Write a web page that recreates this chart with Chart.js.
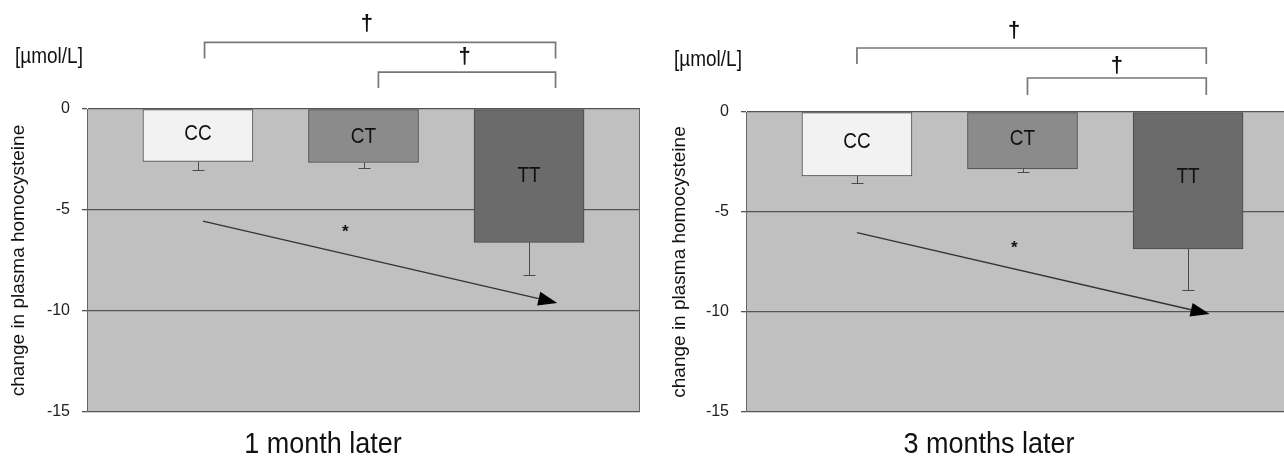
<!DOCTYPE html>
<html>
<head>
<meta charset="utf-8">
<script src="https://cdn.jsdelivr.net/npm/chart.js@4.4.1/dist/chart.umd.min.js"></script>
<style>
    html, body { margin: 0; padding: 0; background: #fff; width: 1284px; height: 457px; overflow: hidden; }
    .panel { position: absolute; top: 0; height: 460px; }
    #month1Wrap { left: 0; width: 652px; }
    #month3Wrap { left: 659px; width: 660px; }
</style>
</head>
<body>
<div class="panel" id="month1Wrap"><canvas id="month1Chart"></canvas></div>
<div class="panel" id="month3Wrap"><canvas id="month3Chart"></canvas></div>

<script>
// values (umol/L change)
const genotypes = ['CC', 'CT', 'TT'];
const month1Change = [-2.6, -2.65, -6.6];
const month1Error = [0.4, 0.25, 1.6];
const month3Change = [-3.2, -2.85, -6.85];
const month3Error = [0.35, 0.15, 2.05];
const yTicks = [0, -5, -10, -15];

Chart.defaults.font.family = "'Liberation Sans', Arial, sans-serif";
Chart.defaults.color = '#222';

const barFill = ['#f2f2f2', '#8b8b8b', '#6b6b6b'];

// the source figure's lettering is a bit taller than wide
function tallText(ctx, text, x, y, size, stretch) {
    ctx.save();
    ctx.translate(x, y);
    ctx.scale(1, stretch);
    ctx.font = size + "px 'Liberation Sans', Arial";
    ctx.fillText(text, 0, 0);
    ctx.restore();
}

function notesPlugin(cfg) {
    return {
        id: 'panelNotes',
        beforeDraw(chart) {
            const { ctx, chartArea: a } = chart;
            ctx.save();
            ctx.fillStyle = '#c0c0c0';
            ctx.fillRect(a.left, a.top, a.right - a.left, a.bottom - a.top);
            ctx.restore();
        },
        beforeDatasetsDraw(chart) {
            const { ctx, chartArea: a } = chart;
            ctx.save();
            ctx.strokeStyle = '#666';
            ctx.lineWidth = 1;
            ctx.beginPath();
            ctx.moveTo(a.right - 0.5, a.top);
            ctx.lineTo(a.right - 0.5, a.bottom);
            ctx.stroke();
            ctx.restore();
        },
        afterDatasetsDraw(chart) {
            const { ctx, chartArea: a } = chart;
            const xs = chart.scales.x, ys = chart.scales.y;
            const px = v => xs.getPixelForValue(v);
            const py = v => ys.getPixelForValue(v);
            const meta = chart.getDatasetMeta(0);

            ctx.save();

            // one-sided error bars
            ctx.strokeStyle = '#4a4a4a';
            ctx.lineWidth = 1;
            meta.data.forEach((bar, i) => {
                const yEnd = Math.round(py(cfg.values[i] - cfg.errors[i])) + 0.5;
                const x = Math.round(bar.x) + 0.5;
                ctx.beginPath();
                ctx.moveTo(x, bar.y);
                ctx.lineTo(x, yEnd);
                ctx.moveTo(x - 6, yEnd);
                ctx.lineTo(x + 6, yEnd);
                ctx.stroke();
            });

            // genotype labels inside the bars
            ctx.fillStyle = '#111';
            ctx.textAlign = 'center';
            ctx.textBaseline = 'middle';
            meta.data.forEach((bar, i) => {
                tallText(ctx, genotypes[i], bar.x, py(cfg.labelY[i]), 19, 1.2);
            });

            // trend arrow
            const ar = cfg.arrow;
            const x0 = px(ar[0]), y0 = py(ar[1]), x1 = px(ar[2]), y1 = py(ar[3]);
            const ang = Math.atan2(y1 - y0, x1 - x0);
            const headLen = 19, headHalf = 7;
            const bx = x1 - headLen * Math.cos(ang), by = y1 - headLen * Math.sin(ang);
            ctx.strokeStyle = '#333';
            ctx.lineWidth = 1.4;
            ctx.beginPath();
            ctx.moveTo(x0, y0);
            ctx.lineTo(bx, by);
            ctx.stroke();
            ctx.fillStyle = '#000';
            ctx.beginPath();
            ctx.moveTo(x1, y1);
            ctx.lineTo(bx + headHalf * Math.sin(ang), by - headHalf * Math.cos(ang));
            ctx.lineTo(bx - headHalf * Math.sin(ang), by + headHalf * Math.cos(ang));
            ctx.closePath();
            ctx.fill();

            // significance star
            ctx.fillStyle = '#111';
            ctx.font = "bold 17px 'Liberation Sans', Arial";
            ctx.fillText('*', px(cfg.star[0]), py(cfg.star[1]) + 3);

            // brackets above the plot
            ctx.strokeStyle = '#777';
            ctx.lineWidth = 1.7;
            cfg.brackets.forEach(b => {
                const bl = px(b.from), br = px(b.to), top = py(b.y), low = py(b.drop);
                ctx.beginPath();
                ctx.moveTo(bl, low);
                ctx.lineTo(bl, top);
                ctx.lineTo(br, top);
                ctx.lineTo(br, low);
                ctx.stroke();
                ctx.fillStyle = '#111';
                ctx.font = "bold 22px 'Liberation Sans', Arial";
                ctx.fillText('\u2020', px(b.markX), py(b.markY));
            });

            // unit label
            ctx.textAlign = 'left';
            tallText(ctx, '[\u00b5mol/L]', a.left - 72, a.top - 52, 19, 1.15);

            // panel caption
            ctx.textAlign = 'center';
            tallText(ctx, cfg.caption, a.left + cfg.captionDx, a.bottom + 33, 27, 1.1);

            ctx.restore();
        }
    };
}

function makePanel(canvasId, cfg) {
    const ctx = document.getElementById(canvasId);
    return new Chart(ctx, {
        type: 'bar',
        data: {
            datasets: [{
                data: cfg.values.map((v, i) => ({ x: i, y: v })),
                backgroundColor: barFill,
                borderColor: '#474747',
                borderWidth: 1,
                borderSkipped: false,
                barThickness: 110,
            }]
        },
        options: {
            responsive: true,
            maintainAspectRatio: false,
            animation: false,
            layout: { padding: { top: cfg.padTop, bottom: 48, left: 0, right: cfg.padRight } },
            plugins: { legend: { display: false }, tooltip: { enabled: false } },
            scales: {
                x: {
                    type: 'linear',
                    min: -0.67,
                    max: 2.67,
                    offset: false,
                    display: false,
                },
                y: {
                    min: -15,
                    max: 0,
                    afterBuildTicks: scale => { scale.ticks = yTicks.map(v => ({ value: v })); },
                    afterFit: scale => { scale.width = 87; },
                    ticks: { font: { size: 16 }, color: '#222', padding: 12 },
                    grid: { color: '#555', lineWidth: 1.3, tickLength: 5 },
                    border: { color: '#666' },
                    title: {
                        display: true,
                        text: 'change in plasma homocysteine',
                        font: { size: 19 },
                        color: '#111',
                        padding: { top: cfg.yTitlePad, bottom: 0 }
                    }
                }
            }
        },
        plugins: [notesPlugin(cfg)]
    });
}

makePanel('month1Chart', {
    values: month1Change,
    errors: month1Error,
    labelY: [-1.2, -1.35, -3.3],
    arrow: [0.03, -5.55, 2.17, -9.6],
    star: [0.89, -5.95],
    brackets: [
        { from: 0.04, to: 2.16, y: 3.3, drop: 2.5, markX: 1.02, markY: 4.2 },
        { from: 1.09, to: 2.16, y: 1.83, drop: 1.04, markX: 1.61, markY: 2.57 }
    ],
    caption: '1 month later',
    captionDx: 236,
    padTop: 109,
    padRight: 12,
    yTitlePad: 7
});

makePanel('month3Chart', {
    values: month3Change,
    errors: month3Error,
    labelY: [-1.5, -1.35, -3.25],
    arrow: [0.0, -6.03, 2.13, -10.1],
    star: [0.95, -6.65],
    brackets: [
        { from: 0.0, to: 2.11, y: 3.2, drop: 2.4, markX: 0.95, markY: 4.05 },
        { from: 1.03, to: 2.11, y: 1.7, drop: 0.85, markX: 1.57, markY: 2.3 }
    ],
    caption: '3 months later',
    captionDx: 243,
    padTop: 112,
    padRight: 20,
    yTitlePad: 9
});
</script>
</body>
</html>
